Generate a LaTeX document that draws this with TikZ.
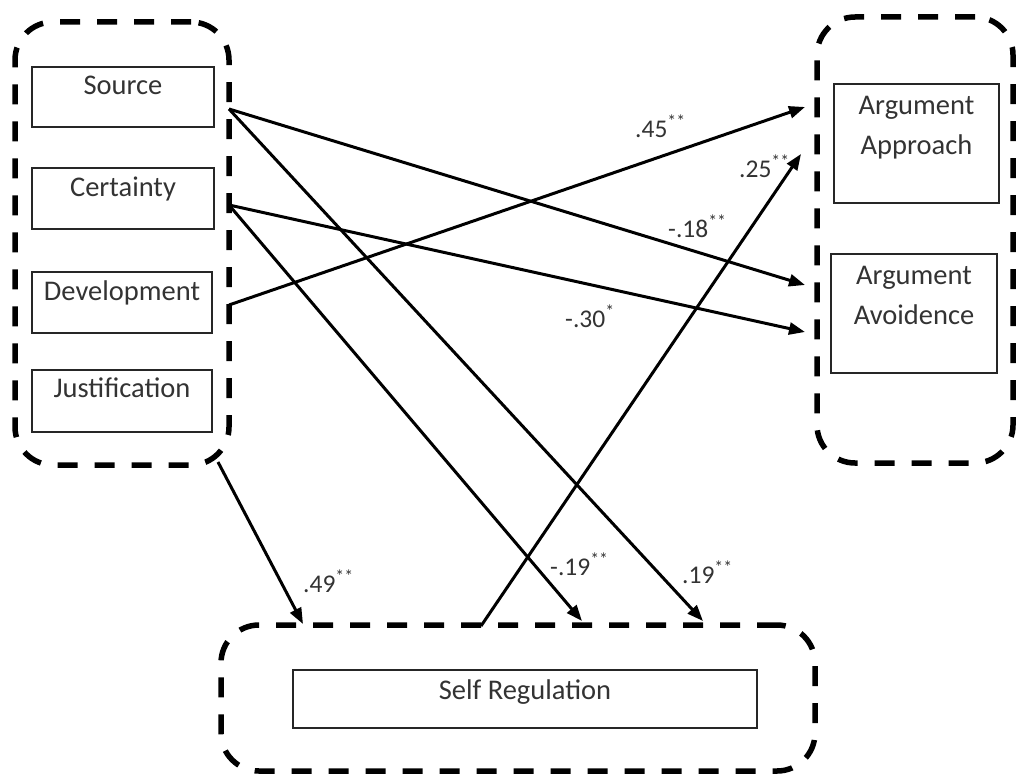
\documentclass[tikz,border=0pt]{standalone}
\usepackage{fontspec}
\setmainfont{Carlito}
\usetikzlibrary{arrows.meta}
\begin{document}
\begin{tikzpicture}[x=1pt,y=-1pt,
  grp/.style={draw=black, line width=5.5pt, dash pattern=on 20pt off 17pt, rounded corners=38pt, rectangle, inner sep=0pt},
  box/.style={draw=black!85, line width=2pt, rectangle, inner sep=0pt},
  boxtxt/.style={anchor=north, inner sep=0pt, font=\fontsize{28.5}{40}\selectfont, text=black!80, align=center},
  arr/.style={line width=3pt, -{Triangle[length=16pt,width=12pt]}},
  lab/.style={anchor=base west, inner sep=0pt, font=\fontsize{25.5}{30}\selectfont, text=black!80}]
\useasboundingbox (0,0) rectangle (1016,776);

% groups
\node[grp, minimum width=214pt, minimum height=443pt] (lgrp) at (122,243.5) {};
\node[grp, minimum width=196pt, minimum height=446pt] (rgrp) at (915,240) {};
\node[grp, minimum width=594pt, minimum height=146pt] (bgrp) at (518,698) {};

% boxes
\node[box, minimum width=182pt, minimum height=60pt, label={[boxtxt, yshift=-10pt]north:Source}] (src) at (123,97) {};
\node[box, minimum width=182pt, minimum height=61pt, label={[boxtxt, yshift=-10pt]north:Certainty}] (cer) at (123,198.5) {};
\node[box, minimum width=180pt, minimum height=61pt, label={[boxtxt, yshift=-10pt]north:Development}] (dev) at (122,302.5) {};
\node[box, minimum width=180pt, minimum height=62pt, label={[boxtxt, yshift=-9pt]north:Justification}] (jus) at (122,401) {};
\node[box, minimum width=165pt, minimum height=119pt, label={[boxtxt, yshift=-13pt]north:Argument\\Approach}] (app) at (916.5,143.5) {};
\node[box, minimum width=166pt, minimum height=119pt, label={[boxtxt, yshift=-13pt]north:Argument\\Avoidence}] (avo) at (914,313.5) {};
\node[box, minimum width=464pt, minimum height=58pt, label={[boxtxt, yshift=-11pt]north:Self Regulation}] (self) at (525,699) {};

% connector end points on the group borders
\coordinate (srcOut) at (229,109);
\coordinate (cerOut) at (229,205);
\coordinate (devOut) at (229,305);
\coordinate (lgrpOut) at (218,462);
\coordinate (selfOut) at (481,626);
\coordinate (appIn1) at (805,107);
\coordinate (appIn2) at (801,154);
\coordinate (avoIn1) at (805,285);
\coordinate (avoIn2) at (805,332);
\coordinate (selfIn0) at (303,624);
\coordinate (selfIn1) at (582,621);
\coordinate (selfIn2) at (703,621);

% connectors
\draw[arr] (srcOut) -- (avoIn1);
\draw[arr] (srcOut) -- (selfIn2);
\draw[arr] (cerOut) -- (avoIn2);
\draw[arr] (cerOut) -- (selfIn1);
\draw[arr] (devOut) -- (appIn1);
\draw[arr] (lgrpOut) -- (selfIn0);
\draw[arr] (selfOut) -- (appIn2);

% labels
\node[lab] (l45) at (635,137) {.45\textsuperscript{**}};
\node[lab] (l25) at (739,177) {.25\textsuperscript{**}};
\node[lab] (l18) at (668,237) {-.18\textsuperscript{**}};
\node[lab] (l30) at (565,327) {-.30\textsuperscript{*}};
\node[lab] (l49) at (303,592) {.49\textsuperscript{**}};
\node[lab] (l19a) at (550,575) {-.19\textsuperscript{**}};
\node[lab] (l19b) at (682,583) {.19\textsuperscript{**}};
\end{tikzpicture}
\end{document}
